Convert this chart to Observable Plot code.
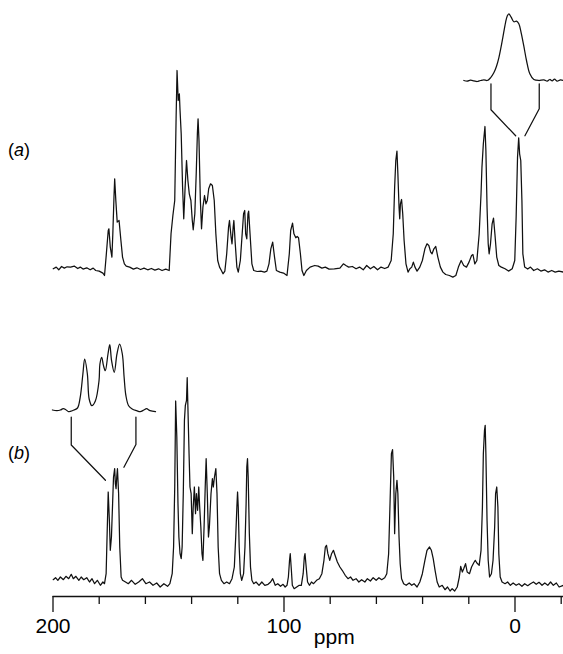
<!DOCTYPE html>
<html><head><meta charset="utf-8">
<script src="https://cdn.jsdelivr.net/npm/d3@7"></script>
<script src="https://cdn.jsdelivr.net/npm/@observablehq/plot@0.6"></script>
<style>
html,body{margin:0;padding:0;background:#fff;}
#chart{position:relative;width:563px;height:654px;overflow:hidden;font-family:"Liberation Sans",Arial,Helvetica,sans-serif;}
#chart svg{position:absolute;}
.lab{position:absolute;font-size:18px;line-height:18px;color:#000;white-space:nowrap;}
</style></head><body><div id="chart"></div>
<script>
// ---- data: [ppm, intensity] ----
const spectrumA = [
[199.9,0],[198.6,1.7],[197.5,-1],[196.3,2.3],[195.1,0.7],[193.9,2],[192.4,1.7],[190.8,2.7],[189.3,0.3],[188.2,1.7],[187,-0.3],[185.4,1],[183.9,-1],[182.6,0.7],[181.5,-1.7],[180,-2.3],[178.4,-4.3],[177.7,-6.7],
[176.9,15],[176.1,38],[175.8,40],[175.2,21.7],[174.5,11.7],[174.1,35],[173.6,71.7],[173.3,90],[172.8,68.3],[172.2,46.7],[171.4,48.3],[170.6,28.3],[169.9,11.7],[169.1,5],[168.3,2.7],
[166.8,1.7],[165.2,-0.3],[163.7,1],[162.1,-0.7],[160.6,0.7],[159,-1],[157.4,0.3],[155.9,-1.3],[154.3,0],[152.8,-1.7],[151.2,-0.3],[149.7,-1.7],
[148.9,35],[148.1,53.3],[147.3,68.3],[146.7,151.7],[146.3,198.3],[145.8,168.3],[145.3,175],[145,158.3],[144.5,135],[143.9,81.7],[143.4,50],[142.8,81.7],[142.2,108.3],[141.6,88.3],[141,75],[140.3,68.3],[139.7,48.3],[139.3,39],[138.6,55],[138,95],[137.5,135],[137.2,150],[136.8,128.3],[136.2,68.3],[135.7,40],[135.1,61.7],[134.4,73.3],[133.8,65],[133.2,68.3],[132.6,80],[131.8,85],[131,83.3],[130.2,68.3],[129.5,35],[128.7,8.3],[127.9,1.7],[127.1,-1.7],[126.4,-5],[125.6,-2.3],
[124.8,15],[124,41.7],[123.6,48.3],[122.9,31.7],[122.5,25],[122,41.7],[121.7,48.3],[121.1,25],[120.4,1.7],[119.8,-3.3],[118.9,8.3],[118.1,35],[117.5,55],[117,58.3],[116.6,35],[116.1,30],[115.6,55],[115.3,57.7],[114.7,35],[113.9,5],[113.1,-1.7],
[111.6,-2.7],[110,-2.3],[108.5,-3.3],[107.4,-2.3],[106.5,5],[105.7,20],[104.9,26.7],[104.1,11.7],[103.3,-1.7],[101.8,-3.3],[100.2,-4.3],[98.7,-6.7],
[97.7,15],[97.1,38.3],[96.3,45.7],[95.7,35],[94.9,31],[94.3,32.3],[93.7,31],[92.9,15],[92.2,-1.7],[91.4,-6.7],[90.3,-1.7],[88.7,1.7],[86.7,3.3],[85.2,2.7],[83.6,0.7],[82.1,1.7],[80.5,-0.3],[78.2,0],[75.8,0.7],[74.3,5],[73.2,3.3],[72,1.7],[70.4,2.3],[68.8,0],[67.3,1.7],[65.7,-1],[64.2,3.3],[62.6,0],[61.1,2.3],[59.5,-1],[58,1.7],[56.4,0.3],[54.9,1.7],
[53.6,8.3],[52.7,35],[52.1,81.7],[51.6,108.3],[51.1,117.7],[50.7,95],[50.2,61.7],[49.9,50],[49.6,65],[49.1,69.3],[48.6,55],[48,28.3],[47.2,5],[46.3,-3.3],[45.5,0],[44.7,1.7],[44,6.7],[43.3,1.7],[42.4,-2.3],[41.2,1.7],
[40.1,8.3],[39,20],[38.1,25],[37.3,23.3],[36.5,16.7],[35.9,15],[35.1,20],[34.3,22.3],[33.4,11.7],[32.3,1.7],[31.2,-3.3],[30,-5.7],[28.4,-6.7],[26.9,-8.3],[25.6,-6.7],[24.5,1.7],[23.3,8.3],[22.2,3.3],[21,1.7],[19.9,6.7],[18.8,13.3],[18.2,14.3],[17.4,5],[16.5,8.3],
[15.5,35],[14.7,75],[14.3,101.7],[13.7,125],[13,142.3],[12.6,118.3],[12.1,61.7],[11.6,25],[11.2,15],[10.6,25],[9.9,45],[9.3,50.7],[8.7,35],[7.9,11.7],[7,3.3],[5.9,1.7],[4.3,0],[2.8,-2.3],[1.2,0],
[0.1,8.3],[-0.5,51.7],[-1.1,111.7],[-1.6,131],[-2,115],[-2.5,108.3],[-3,68.3],[-3.4,15],[-4.2,1.7],[-5.5,-0.3],[-6.7,1.7],[-8.1,-1.7],[-9.7,0],[-11.2,-2.3],[-12.8,-1],[-14.3,-3.3],[-15.9,-1.7],[-17.4,-3.3],[-19,-2.3],[-21,-3.3]
];

const spectrumB = [
[199.9,2.3],[198.9,4.3],[197.9,1.7],[196.8,5],[195.5,2.3],[194.4,5.7],[193.2,3.3],[192.1,7.7],[191.2,3.3],[190.1,5.7],[188.8,1.7],[187.8,5],[186.7,2.3],[185.4,4.3],[184.2,0],[183.1,3.3],[182,-1.7],[180.8,1.7],[179.5,-3.3],[178.4,0],[177.7,-1.7],
[177,8.3],[176.6,45],[176.1,90],[175.6,61.7],[175.2,31.7],[174.7,45],[174.2,78.3],[173.8,105],[173.3,113.3],[173,98.3],[172.7,93.3],[172.4,105],[172.1,113.3],[171.6,88.3],[171.1,35],[170.5,5],[169.9,1.7],
[168.6,0],[167.4,-1.7],[166,1.7],[164.4,-2.3],[162.9,0],[161.3,3.3],[159.8,-1.7],[158.2,0],[156.7,-3.3],[155.1,-1],[153.6,-5],[152,-1.7],[150.4,-4.3],[149.4,-1.7],
[148.4,8.3],[147.8,35],[147.3,95],[146.9,181],[146.4,145],[145.9,78.3],[145.5,45],[145,28.3],[144.5,23.3],[144.1,35],[143.6,88.3],[143.1,161.7],[142.7,176.7],[142.2,181.7],[141.9,204.3],[141.6,175],[141.1,128.3],[140.7,95],[140.2,88.3],[139.7,48.3],[139.3,75],[138.8,95],[138.3,68.3],[137.9,88.3],[137.4,71.7],[136.9,95],[136.5,75],[136,55],[135.5,28.3],[135.1,21.7],[134.6,55],[134.1,95],[133.7,123.3],[133.2,88.3],[132.7,45],[132.3,55],[131.6,88.3],[131,103.3],[130.6,95],[130.1,105],[129.5,113.3],[129,88.3],[128.5,35],[127.9,8.3],[127.1,1.7],[126,-1.7],[124.8,0],[123.6,-1.7],
[122.5,3.3],[121.5,15],[120.9,45],[120.4,75],[120.1,90],[119.8,75],[119.4,35],[118.9,8.3],[118.3,1.7],[117.5,8.3],[116.9,35],[116.4,78.3],[116.1,115],[115.8,123.3],[115.5,105],[115,48.3],[114.5,15],[113.9,1.7],[113.1,-1.7],
[112.1,0],[110.8,-3.3],[109.6,0],[108.3,-3.3],[106.9,-2.3],[105.8,0],[104.9,3.3],[103.8,-3.3],[102.7,-1.7],[101.5,-4.3],[100.4,-2.3],[99.5,-5],[98.7,-3.3],
[98.1,5],[97.6,21.7],[97.3,28.3],[96.8,11.7],[96.4,-3.3],[95.6,-6.7],[94.5,-5],[93.4,-3.3],[92.5,-3.3],[91.7,8.3],[91.2,25],[90.9,28.3],[90.4,15],[89.8,0],[89,-3.3],[88.1,0],[87.2,-1.7],[85.9,1.7],[84.7,3.3],
[83.6,8.3],[82.7,21.7],[82.1,35],[81.6,36.7],[81,28.3],[80.2,21.7],[79.4,28.3],[78.6,31.7],[77.9,26.7],[76.9,20],[75.8,15],[74.8,11.7],[73.5,6.7],[72.3,3.3],[71.2,5],[70.1,1.7],[68.8,3.3],[67.6,0],[66.4,2.3],[65,0],[63.9,3.3],[62.6,1],[61.4,4.3],[60.1,1.7],[58.9,4.3],[57.7,2.3],[56.4,4.3],
[55.5,8.3],[54.7,28.3],[54.1,78.3],[53.5,128.3],[53,132.3],[52.5,105],[52.1,48.3],[51.6,88.3],[51.1,101.7],[50.7,88.3],[50.2,45],[49.7,18.3],[49.1,3.3],[48.2,-1.7],[47.1,-3.3],[45.8,-1],[44.7,-3.3],[43.7,-1.7],[42.4,-5],[41.2,0],
[40.1,8.3],[39,21.7],[38.1,31.7],[37,35],[36.2,31.7],[35.4,23.3],[34.6,11.7],[33.7,0],[32.8,-5],[31.5,-3.3],[30.3,-7.7],[29.2,-5],[28.1,-9],[27.2,-6.7],[26.1,-9],[25,-5],
[24.1,5],[23.5,15.7],[22.8,10],[22.2,13.3],[21.4,18.3],[20.7,10],[19.7,8.3],[18.8,15],[17.9,19],[17.2,21.7],[16.5,19],[15.5,16.7],
[14.7,31.7],[14.1,75],[13.7,128.3],[13.2,151.7],[12.9,156.7],[12.6,128.3],[12.1,61.7],[11.6,21.7],[11,5],[10.2,8.3],[9.5,21.7],[8.8,55],[8.4,88.3],[7.9,95],[7.4,75],[7,28.3],[6.4,5],[5.6,0],
[4.3,-1.7],[3.2,0],[2,-3.3],[0.8,-1],[-0.5,-3.3],[-1.7,-1.7],[-3,-4.3],[-4.2,-1.7],[-5.5,-3.7],[-6.7,-1.7],[-8,0],[-9.2,-2.3],[-10.4,-0.3],[-11.7,-3.3],[-12.9,-1],[-14.2,-3.3],[-15.4,0],[-16.6,-3.3],[-17.9,-1],[-19.1,-5],[-21,-3.3]
];

// expanded insets: [ppm, intensity]
const insetA = [
[4.46,0],[4.06,-0.7],[3.66,0.3],[3.26,-0.3],[2.86,-1],[2.46,0],[2.06,0.7],[1.66,0],[1.26,2.7],[0.86,7.7],[0.54,14.3],[0.26,22.7],[-0.14,39.3],[-0.54,57.7],[-0.74,64.3],[-0.94,66.7],[-1.22,63.3],[-1.54,58.7],[-1.86,59.3],[-2.14,56.7],[-2.42,47.7],[-2.74,34.3],[-3.06,20],[-3.46,6.7],[-3.94,1],[-4.54,0],[-5.14,0.7],[-5.54,-0.7],[-5.86,1],[-6.14,-0.3],[-6.42,1.3],[-6.74,-0.7],[-7.14,0.7],[-7.5,0]
];
const insetB = [
[178.8,0],[178.3,-0.7],[177.9,0],[177.6,1.3],[177.3,0.3],[177.0,-1.7],[176.8,-1.3],[176.4,0],[176.0,2],[175.7,12.7],[175.4,36],[175.2,51],[174.9,36],[174.7,11],[174.4,4.3],[174.0,9.3],[173.6,29.3],[173.5,46],[173.3,52.7],[173.1,44.3],[172.9,39.3],[172.6,56],[172.4,65.3],[172.2,49.3],[171.9,37.7],[171.6,56],[171.3,66],[171.0,56],[170.8,32.7],[170.6,14.3],[170.3,4.3],[169.9,1],[169.4,-0.7],[169.0,-1.7],[168.6,0],[168.3,1.3],[167.9,-0.7],[167.3,-1.7]
];

// connector lines from inset to the expanded peak: [ppm, intensity, side]
const connectorA = [[10.4,185,"L"],[10.4,159,"L"],[-0.3,133,"L"],[-10.5,185,"R"],[-10.5,160,"R"],[-4.3,133,"R"]];
const connectorB = [[192.1,165,"L"],[192.1,137,"L"],[177.3,101.7,"L"],[164.1,165,"R"],[164.1,137.5,"R"],[169.3,114.7,"R"]];

const majorTicks = [200, 100, 0];
const minorTicks = [180, 160, 140, 120, 80, 60, 40, 20, -20];
const xLabel = "ppm";
const panelLabels = ["a", "b"];

// ---- drawing ----
const FONT = '"Liberation Sans", Arial, Helvetica, sans-serif';
const xDomain = [200, -21];
const ink = "#111";
const lineW = 1.25;
const chart = document.getElementById("chart");
const baseStyle = {background: "transparent", overflow: "visible", fontFamily: FONT, color: "#000"};

function place(svg, left, top) {
  svg.style.left = left + "px";
  svg.style.top = top + "px";
  chart.appendChild(svg);
}

const plotA = Plot.plot({
  width: 563, height: 300,
  marginLeft: 52.5, marginRight: 0, marginTop: 68.3, marginBottom: 11.7,
  style: baseStyle,
  x: {domain: xDomain, axis: null},
  y: {domain: [-20, 200], axis: null},
  marks: [
    Plot.line(spectrumA, {x: d => d[0], y: d => d[1], stroke: ink, strokeWidth: lineW}),
    Plot.line(connectorA, {x: d => d[0], y: d => d[1], z: d => d[2], stroke: ink, strokeWidth: lineW})
  ]
});
place(plotA, 0, 0);

const yB = [-14.5, 210];
const plotB = Plot.plot({
  width: 563, height: 354,
  marginLeft: 52.5, marginRight: 0, marginTop: 71.5, marginBottom: 58,
  style: baseStyle,
  x: {domain: xDomain, label: null},
  y: {domain: yB, axis: null},
  marks: [
    Plot.ruleY([yB[0]], {stroke: ink, strokeWidth: 1.3}),
    Plot.axisX(majorTicks, {tickSize: 16, tickPadding: 6, fontSize: 21, strokeWidth: 1.3, stroke: ink, fill: "#000", tickFormat: d => String(d), label: null}),
    Plot.axisX(minorTicks, {tickSize: 8, strokeWidth: 1.3, stroke: ink, tickFormat: () => "", label: null}),
    Plot.text([xLabel], {frameAnchor: "bottom", dx: 26, dy: 47, fontSize: 21, fill: "#000", text: d => d}),
    Plot.line(spectrumB, {x: d => d[0], y: d => d[1], stroke: ink, strokeWidth: lineW}),
    Plot.line(connectorB, {x: d => d[0], y: d => d[1], z: d => d[2], stroke: ink, strokeWidth: lineW})
  ]
});
place(plotB, 0, 300);

const insA = Plot.plot({
  width: 100, height: 90,
  marginLeft: 0, marginRight: 0, marginTop: 0, marginBottom: 0,
  style: baseStyle,
  x: {domain: [4.5, -7.5], axis: null},
  y: {domain: [-10, 80], axis: null},
  marks: [Plot.line(insetA, {x: d => d[0], y: d => d[1], stroke: ink, strokeWidth: lineW, curve: "catmull-rom"})]
});
place(insA, 463, 0);

const insB = Plot.plot({
  width: 103, height: 100,
  marginLeft: 0.8, marginRight: 0, marginTop: 0, marginBottom: 0,
  style: baseStyle,
  x: {domain: [178.7, 167.3], axis: null},
  y: {domain: [-10.5, 89.5], axis: null},
  marks: [Plot.line(insetB, {x: d => d[0], y: d => d[1], stroke: ink, strokeWidth: lineW, curve: "catmull-rom"})]
});
place(insB, 52, 320);

// panel labels (a), (b)
const labTops = [141.2, 444.2];
panelLabels.forEach((t, i) => {
  const s = document.createElement("div");
  s.className = "lab";
  s.style.left = "8px";
  s.style.top = labTops[i] + "px";
  s.innerHTML = "(<i>" + t + "</i>)";
  chart.appendChild(s);
});
</script>
</body></html>
